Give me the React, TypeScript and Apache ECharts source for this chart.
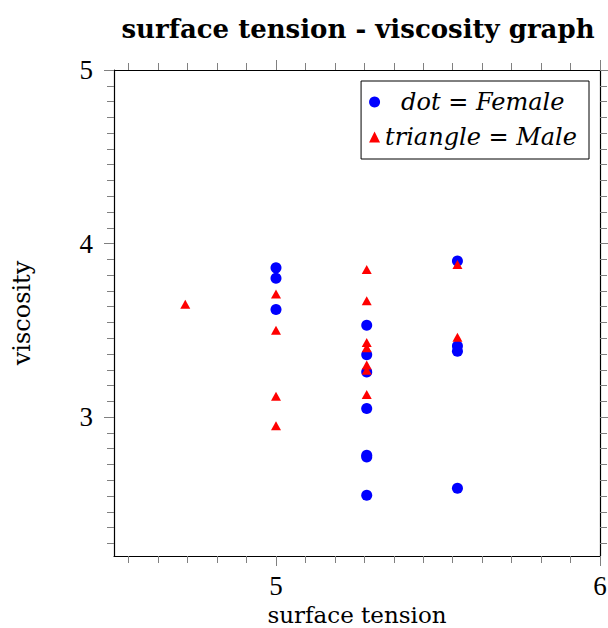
import React, { useEffect, useRef } from "react";
import * as echarts from "echarts";

// ---- data ----
const femaleX = [5.0, 5.0, 5.0, 5.28, 5.28, 5.28, 5.28, 5.28, 5.28, 5.28, 5.56, 5.56, 5.56, 5.56];
const femaleY = [3.86, 3.8, 3.62, 3.53, 3.36, 3.26, 3.05, 2.78, 2.77, 2.55, 3.9, 3.41, 3.38, 2.59];
const maleX = [4.72, 5.0, 5.0, 5.0, 5.0, 5.28, 5.28, 5.28, 5.28, 5.28, 5.28, 5.28, 5.56, 5.56];
const maleY = [3.65, 3.71, 3.5, 3.12, 2.95, 3.85, 3.67, 3.43, 3.4, 3.3, 3.27, 3.13, 3.88, 3.46];

const X_MAJOR = [5, 6];
const Y_MAJOR = [3, 4, 5];
const X_RANGE = [4.5, 6];
const Y_RANGE = [2.2, 5];
const MINOR_PER_UNIT = 11;

const TITLE = "surface tension - viscosity graph";
const X_NAME = "surface tension";
const Y_NAME = "viscosity";

const FONT = "'DejaVu Serif', 'Liberation Serif', serif";
const NUM_FONT = "'Liberation Serif', serif";

function minorTicks(range: number[], anchor: number): number[] {
  const out: number[] = [];
  for (let k = -100; k <= 100; k++) {
    if (k % MINOR_PER_UNIT === 0) continue;
    const v = anchor + k / MINOR_PER_UNIT;
    if (v > range[0] + 1e-9 && v < range[1] - 1e-9) out.push(v);
  }
  return out;
}

export default function App() {
  const ref = useRef<HTMLDivElement>(null);
  useEffect(() => {
    if (!ref.current) return;
    const chart = echarts.init(ref.current, null, { renderer: "svg" });
    const xMinor = minorTicks(X_RANGE, X_MAJOR[0]);
    const yMinor = minorTicks(Y_RANGE, Y_MAJOR[0]);
    const tickColor = "#808080";
    const lineStyle = { color: "#000", width: 1.2 };

    const mkX = (pos: string, major: boolean, main: boolean) => ({
      type: "value",
      min: X_RANGE[0],
      max: X_RANGE[1],
      position: pos,
      axisLine: { show: major, onZero: false, lineStyle },
      axisTick: {
        show: true,
        inside: false,
        length: major ? 10 : 7,
        customValues: major ? X_MAJOR : xMinor,
        lineStyle: { color: tickColor, width: 1 },
      },
      axisLabel: main
        ? { show: true, customValues: X_MAJOR, margin: 16, color: "#000", fontFamily: NUM_FONT, fontSize: 27 }
        : { show: false },
      splitLine: { show: false },
      ...(main
        ? {
            name: X_NAME,
            nameLocation: "middle",
            nameGap: 47,
            nameTextStyle: { color: "#000", fontFamily: FONT, fontSize: 23, lineHeight: 20 },
          }
        : {}),
    });
    const mkY = (pos: string, major: boolean, main: boolean) => ({
      type: "value",
      min: Y_RANGE[0],
      max: Y_RANGE[1],
      position: pos,
      axisLine: { show: major, onZero: false, lineStyle },
      axisTick: {
        show: true,
        inside: false,
        length: major ? 10 : 7,
        customValues: major ? Y_MAJOR : yMinor,
        lineStyle: { color: tickColor, width: 1 },
      },
      axisLabel: main
        ? { show: true, customValues: Y_MAJOR, margin: 21, color: "#000", fontFamily: NUM_FONT, fontSize: 27 }
        : { show: false },
      splitLine: { show: false },
      ...(main
        ? {
            name: Y_NAME,
            nameLocation: "middle",
            nameGap: 80,
            nameTextStyle: { color: "#000", fontFamily: FONT, fontSize: 24 },
          }
        : {}),
    });

    const italic = { fontStyle: "italic", fontFamily: FONT, fontSize: 24, color: "#000" };
    chart.setOption({
      animation: false,
      backgroundColor: "#fff",
      title: {
        text: TITLE,
        left: 353,
        textAlign: "center",
        top: 11,
        textStyle: { fontFamily: FONT, fontWeight: "bold", fontSize: 26, color: "#000" },
      },
      grid: { left: 114, right: 8, top: 70, bottom: 72, containLabel: false, outerBoundsMode: "none" },
      legend: {
        orient: "vertical",
        right: 19,
        top: 81,
        padding: [9, 12, 10, 8],
        itemGap: 11,
        itemWidth: 11,
        itemHeight: 11,
        borderColor: "#000",
        borderWidth: 1,
        borderRadius: 0,
        backgroundColor: "#fff",
        data: ["Female", "Male"],
        formatter: (name: string) =>
          name === "Female" ? "{ip|dot} {u|=} {i|Female}" : "{i|triangle} {u|=} {i|Male}",
        textStyle: {
          fontFamily: FONT,
          fontSize: 24,
          color: "#000",
          rich: {
            i: italic,
            ip: { ...italic, padding: [0, 0, 0, 16] },
            u: { fontFamily: FONT, fontSize: 24, color: "#000" },
          },
        },
      },
      xAxis: [mkX("bottom", true, true), mkX("bottom", false, false), mkX("top", true, false), mkX("top", false, false)],
      yAxis: [mkY("left", true, true), mkY("left", false, false), mkY("right", true, false), mkY("right", false, false)],
      series: [
        {
          name: "Female",
          type: "scatter",
          xAxisIndex: 0,
          yAxisIndex: 0,
          symbol: "circle",
          symbolSize: 11,
          itemStyle: { color: "#0000ff", opacity: 1 },
          data: femaleX.map((x, i) => [x, femaleY[i]]),
        },
        {
          name: "Male",
          type: "scatter",
          xAxisIndex: 0,
          yAxisIndex: 0,
          symbol: "triangle",
          symbolSize: [10, 9],
          itemStyle: { color: "#ff0000", opacity: 1 },
          data: maleX.map((x, i) => [x, maleY[i]]),
        },
      ],
    });
    return () => chart.dispose();
  }, []);
  return <div ref={ref} style={{ position: "fixed", left: 0, top: 0, width: 608, height: 628 }} />;
}
